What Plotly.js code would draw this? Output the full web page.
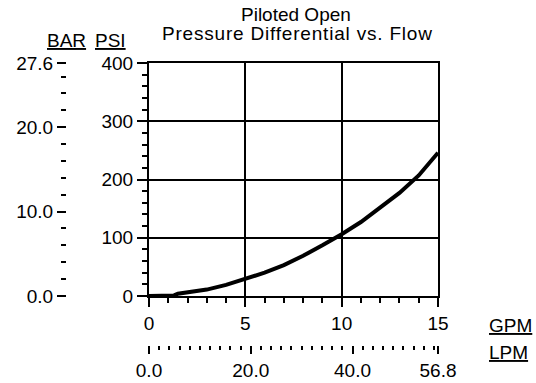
<!DOCTYPE html>
<html>
<head>
<meta charset="utf-8">
<script src="https://cdn.plot.ly/plotly-3.0.1.min.js"></script>
<style>
html,body{margin:0;padding:0;background:#fff;}
#chart{width:536px;height:383px;}
</style>
</head>
<body>
<div id="chart"></div>
<script>
// ---- data ----
const gpm = [0, 0.5, 1, 1.3, 1.5, 2, 3, 4, 5, 6, 7, 8, 9, 10, 11, 12, 13, 14, 15];
const psi = [0, 0, 0, 1, 4, 6, 11, 19, 29, 40, 53, 69, 87, 106, 127, 151, 177, 207, 246];

const psiTickVals = [0, 100, 200, 300, 400];
const gpmTickVals = [0, 5, 10, 15];
const barTickVals = [0, 10, 20, 27.6];
const barTickText = ['0.0', '10.0', '20.0', '27.6'];
const lpmTickVals = [0, 20, 40, 56.8];
const lpmTickText = ['0.0', '20.0', '40.0', '56.8'];

const titleLines = ['Piloted Open', 'Pressure Differential vs. Flow'];
const unitLabels = {bar: 'BAR', psi: 'PSI', gpm: 'GPM', lpm: 'LPM'};

// ---- layout geometry (pixels) ----
const W = 536, H = 383;
const M = {l: 20, r: 98, t: 63, b: 13};
const pw = W - M.l - M.r, ph = H - M.t - M.b;
const fx = px => (px - M.l) / pw;
const fy = py => (H - M.b - py) / ph;
const plotBottom = 296;

const FONT = 'Liberation Sans, Arial, sans-serif';
const fs = 19;
const black = '#000';

const trace = {
  x: gpm, y: psi, type: 'scatter', mode: 'lines',
  line: {color: black, width: 4},
  hoverinfo: 'skip', showlegend: false
};
// invisible helpers so secondary axes are drawn
const barTrace = {x: [0], y: [0], xaxis: 'x', yaxis: 'y2', mode: 'markers',
  marker: {opacity: 0}, showlegend: false, hoverinfo: 'skip'};
const lpmTrace = {x: [0], y: [0], xaxis: 'x2', yaxis: 'y', mode: 'markers',
  marker: {opacity: 0}, showlegend: false, hoverinfo: 'skip'};

function ul(t){ return '<span style="text-decoration:underline">' + t + '</span>'; }
function spaced(t, s){ return '<span style="letter-spacing:' + s + 'px">' + t + '</span>'; }

const ann = (text, x, y, xanchor) => ({
  text, xref: 'paper', yref: 'paper', x: fx(x), y: fy(y),
  xanchor: xanchor || 'center', yanchor: 'middle', showarrow: false,
  borderpad: 0,
  font: {family: FONT, size: fs, color: black}
});

const layout = {
  width: W, height: H,
  margin: M,
  paper_bgcolor: '#fff', plot_bgcolor: '#fff',
  font: {family: FONT, size: fs, color: black},
  showlegend: false,
  xaxis: {
    range: [0, 15], domain: [fx(149), 1],
    tickmode: 'array', tickvals: gpmTickVals,
    ticks: 'outside', ticklen: 9, tickwidth: 2, tickcolor: black,
    minor: {dtick: 1, tick0: 0, ticks: 'outside', ticklen: 5, tickwidth: 2, tickcolor: black, showgrid: false},
    showgrid: true, gridcolor: black, gridwidth: 2,
    showline: true, linecolor: black, linewidth: 2, mirror: true,
    zeroline: false, anchor: 'y', fixedrange: true
  },
  xaxis2: {
    range: [0, 56.8], overlaying: 'x', anchor: 'free', position: fy(345), side: 'bottom',
    tickmode: 'array', tickvals: lpmTickVals, ticktext: lpmTickText,
    ticks: 'outside', ticklen: 8, tickwidth: 2, tickcolor: black,
    minor: {dtick: 2, tick0: 0, ticks: 'outside', ticklen: 4, tickwidth: 2, tickcolor: black, showgrid: false},
    showgrid: false, showline: false, zeroline: false, fixedrange: true
  },
  yaxis: {
    range: [0, 400], domain: [fy(plotBottom), 1],
    tickmode: 'array', tickvals: psiTickVals,
    ticksuffix: '\u00a0',
    ticks: 'outside', ticklen: 10, tickwidth: 2, tickcolor: black,
    minor: {dtick: 20, tick0: 0, ticks: 'outside', ticklen: 5, tickwidth: 2, tickcolor: black, showgrid: false},
    showgrid: true, gridcolor: black, gridwidth: 2,
    showline: true, linecolor: black, linewidth: 2, mirror: true,
    zeroline: false, anchor: 'x', fixedrange: true
  },
  yaxis2: {
    range: [0, 27.6], overlaying: 'y', anchor: 'free', position: fx(66), side: 'left',
    tickmode: 'array', tickvals: barTickVals, ticktext: barTickText,
    ticks: 'outside', ticklen: 9, tickwidth: 2, tickcolor: black,
    minor: {dtick: 2, tick0: 0, ticks: 'outside', ticklen: 5, tickwidth: 2, tickcolor: black, showgrid: false},
    showgrid: false, showline: false, zeroline: false, fixedrange: true
  },
  annotations: [
    ann(titleLines[0], 296, 15),
    ann(spaced(titleLines[1], 0.8), 297, 34),
    ann(ul(unitLabels.bar), 66, 41),
    ann(ul(unitLabels.psi), 110, 41),
    ann(ul(unitLabels.gpm), 488, 325, 'left'),
    ann(ul(unitLabels.lpm), 488, 352, 'left')
  ]
};

Plotly.newPlot('chart', [trace, barTrace, lpmTrace], layout, {staticPlot: true, displayModeBar: false});
</script>
</body>
</html>
